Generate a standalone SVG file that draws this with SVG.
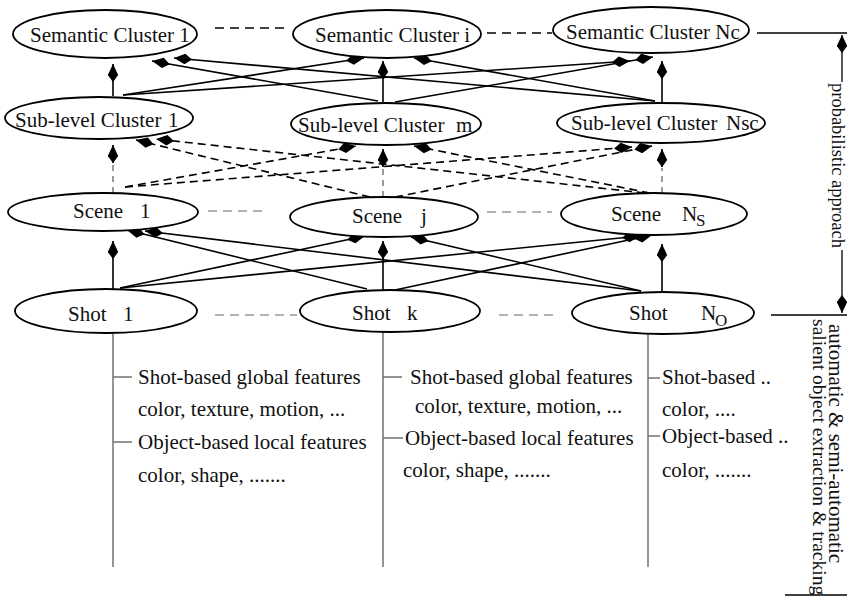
<svg xmlns="http://www.w3.org/2000/svg" width="847" height="597" viewBox="0 0 847 597">
<defs>
<style>
.node ellipse{fill:#fff;stroke:#000;stroke-width:1.8}
text{font-family:"Liberation Serif","Times New Roman",serif;font-size:21px;fill:#111}
.sub{font-size:17px}
.pa{font-size:18.5px}
.sal{font-size:19.6px}
.c{fill:none;stroke:#000;stroke-width:1.6}
.d{fill:none;stroke:#000;stroke-width:1.6;stroke-dasharray:8 5}
.dv{fill:none;stroke:#666;stroke-width:1.3;stroke-dasharray:6 5}
.peer{fill:none;stroke:#000;stroke-width:1.3;stroke-dasharray:9 6}
.peerg{fill:none;stroke:#999;stroke-width:1.6;stroke-dasharray:9 6}
.g{fill:none;stroke:#707070;stroke-width:1.5}
.k{fill:none;stroke:#000;stroke-width:1.3}
</style>
<marker id="ah" markerWidth="18" markerHeight="11" viewBox="0 0 18 11" refX="18" refY="5.5" orient="auto" markerUnits="userSpaceOnUse">
<path d="M18,5.5 L7,0.3 L0,5.5 L7,10.7 Z" fill="#000"/>
</marker>
</defs>
<rect width="847" height="597" fill="#fff"/>

<g id="connectors">
<!-- peer dashes -->
<line class="peer" x1="215" y1="28" x2="284" y2="28"/>
<line class="peer" x1="487" y1="33" x2="552" y2="33"/>
<line class="peerg" x1="208" y1="211" x2="268" y2="211"/>
<line class="peerg" x1="487" y1="212" x2="552" y2="212"/>
<line class="peerg" x1="215" y1="315" x2="297" y2="315"/>
<line class="peerg" x1="499" y1="315" x2="558" y2="315"/>
<!-- sub-level -> semantic -->
<line class="c" x1="113" y1="96" x2="113" y2="64" marker-end="url(#ah)"/>
<line class="c" x1="378" y1="101" x2="152" y2="61" marker-end="url(#ah)"/>
<line class="c" x1="655" y1="101" x2="174" y2="58" marker-end="url(#ah)"/>
<line class="c" x1="123" y1="95" x2="364" y2="58" marker-end="url(#ah)"/>
<line class="c" x1="383" y1="102" x2="383" y2="61" marker-end="url(#ah)"/>
<line class="c" x1="655" y1="101" x2="414" y2="58" marker-end="url(#ah)"/>
<line class="c" x1="123" y1="95" x2="630" y2="61" marker-end="url(#ah)"/>
<line class="c" x1="395" y1="102" x2="653" y2="57" marker-end="url(#ah)"/>
<line class="c" x1="662" y1="102" x2="662" y2="61" marker-end="url(#ah)"/>
<!-- scene -> sub-level (dashed) -->
<line class="dv" x1="113" y1="193" x2="113" y2="164"/>
<line class="c" x1="113" y1="163" x2="113" y2="145" marker-end="url(#ah)"/>
<line class="d" x1="370" y1="197" x2="136" y2="140" marker-end="url(#ah)"/>
<line class="d" x1="645" y1="193" x2="156" y2="139" marker-end="url(#ah)"/>
<line class="d" x1="125" y1="187" x2="356" y2="146" marker-end="url(#ah)"/>
<line class="dv" x1="383" y1="197" x2="383" y2="168"/>
<line class="c" x1="383" y1="167" x2="383" y2="149" marker-end="url(#ah)"/>
<line class="d" x1="650" y1="193" x2="414" y2="146" marker-end="url(#ah)"/>
<line class="d" x1="125" y1="187" x2="632" y2="147" marker-end="url(#ah)"/>
<line class="d" x1="395" y1="197" x2="652" y2="146" marker-end="url(#ah)"/>
<line class="dv" x1="662" y1="193" x2="662" y2="168"/>
<line class="c" x1="662" y1="167" x2="662" y2="149" marker-end="url(#ah)"/>
<!-- shot -> scene -->
<line class="c" x1="113" y1="290" x2="113" y2="241" marker-end="url(#ah)"/>
<line class="c" x1="367" y1="289" x2="127" y2="230" marker-end="url(#ah)"/>
<line class="c" x1="641" y1="291" x2="145" y2="231" marker-end="url(#ah)"/>
<line class="c" x1="120" y1="288" x2="365" y2="236" marker-end="url(#ah)"/>
<line class="c" x1="383" y1="290" x2="383" y2="241" marker-end="url(#ah)"/>
<line class="c" x1="641" y1="291" x2="411" y2="237" marker-end="url(#ah)"/>
<line class="c" x1="120" y1="288" x2="640" y2="236" marker-end="url(#ah)"/>
<line class="c" x1="395" y1="290" x2="652" y2="235" marker-end="url(#ah)"/>
<line class="c" x1="662" y1="292" x2="662" y2="244" marker-end="url(#ah)"/>
<!-- feature stems -->
<line class="g" x1="113" y1="333" x2="113" y2="567"/>
<line class="g" x1="383" y1="332" x2="383" y2="567"/>
<line class="g" x1="648" y1="334" x2="648" y2="567"/>
<line class="g" x1="113" y1="377" x2="132" y2="377"/>
<line class="g" x1="113" y1="442" x2="132" y2="442"/>
<line class="g" x1="383" y1="377" x2="402" y2="377"/>
<line class="g" x1="383" y1="438" x2="403" y2="438"/>
<line class="g" x1="648" y1="378" x2="660" y2="378"/>
<line class="g" x1="648" y1="436" x2="660" y2="436"/>
<!-- right side brackets -->
<line class="k" x1="757" y1="33" x2="847" y2="33"/>
<line class="k" x1="771" y1="315" x2="847" y2="315"/>
<line class="k" x1="785" y1="595" x2="847" y2="595"/>
<line class="k" x1="842" y1="82" x2="842" y2="35" marker-end="url(#ah)"/>
<line class="k" x1="842" y1="250" x2="842" y2="313" marker-end="url(#ah)"/>
</g>

<g id="sem1" class="node"><ellipse cx="105" cy="34" rx="92" ry="24"/><text x="30" y="42">Semantic Cluster 1</text></g>
<g id="semi" class="node"><ellipse cx="387" cy="34" rx="94" ry="24"/><text x="315" y="42">Semantic Cluster i</text></g>
<g id="semNc" class="node"><ellipse cx="651" cy="30" rx="98" ry="23"/><text x="566" y="39">Semantic Cluster Nc</text></g>

<g id="sub1" class="node"><ellipse cx="99" cy="118" rx="94" ry="21"/><text x="15" y="127">Sub-level Cluster<tspan x="168">1</tspan></text></g>
<g id="subm" class="node"><ellipse cx="386" cy="124" rx="95" ry="21"/><text x="298" y="132">Sub-level Cluster<tspan x="456">m</tspan></text></g>
<g id="subNsc" class="node"><ellipse cx="661" cy="123" rx="104" ry="20"/><text x="571" y="130">Sub-level Cluster<tspan x="726">Nsc</tspan></text></g>

<g id="scene1" class="node"><ellipse cx="103" cy="212" rx="95" ry="19"/><text x="73" y="218">Scene<tspan x="140">1</tspan></text></g>
<g id="scenej" class="node"><ellipse cx="384" cy="217" rx="94" ry="20"/><text x="352" y="223">Scene<tspan x="421">j</tspan></text></g>
<g id="sceneNs" class="node"><ellipse cx="654" cy="214" rx="93" ry="21"/><text x="611" y="221">Scene<tspan x="682">N</tspan><tspan class="sub" x="696" y="226">S</tspan></text></g>

<g id="shot1" class="node"><ellipse cx="106" cy="311" rx="91" ry="22"/><text x="68" y="321">Shot<tspan x="123">1</tspan></text></g>
<g id="shotk" class="node"><ellipse cx="390" cy="311" rx="90" ry="21"/><text x="352" y="320">Shot<tspan x="407">k</tspan></text></g>
<g id="shotNo" class="node"><ellipse cx="663" cy="313" rx="91" ry="21"/><text x="629" y="320">Shot<tspan x="701">N</tspan><tspan class="sub" x="715" y="326">O</tspan></text></g>

<g id="features">
<text x="138" y="384">Shot-based global features</text>
<text x="138" y="416">color, texture, motion, ...</text>
<text x="138" y="449">Object-based local features</text>
<text x="138" y="482">color, shape, .......</text>
<text x="410" y="384">Shot-based global features</text>
<text x="415" y="413">color, texture, motion, ...</text>
<text x="405" y="445">Object-based local features</text>
<text x="403" y="477">color, shape, .......</text>
<text x="662" y="384">Shot-based ..</text>
<text x="662" y="416">color, ....</text>
<text x="662" y="443">Object-based ..</text>
<text x="662" y="477">color, .......</text>
</g>

<g id="side-labels">
<text class="pa" transform="translate(832,83) rotate(90)">probabilistic approach</text>
<text transform="translate(829,324) rotate(90)">automatic &amp; semi-automatic</text>
<text class="sal" transform="translate(813,319) rotate(90)">salient object extraction &amp; tracking</text>
</g>
</svg>
